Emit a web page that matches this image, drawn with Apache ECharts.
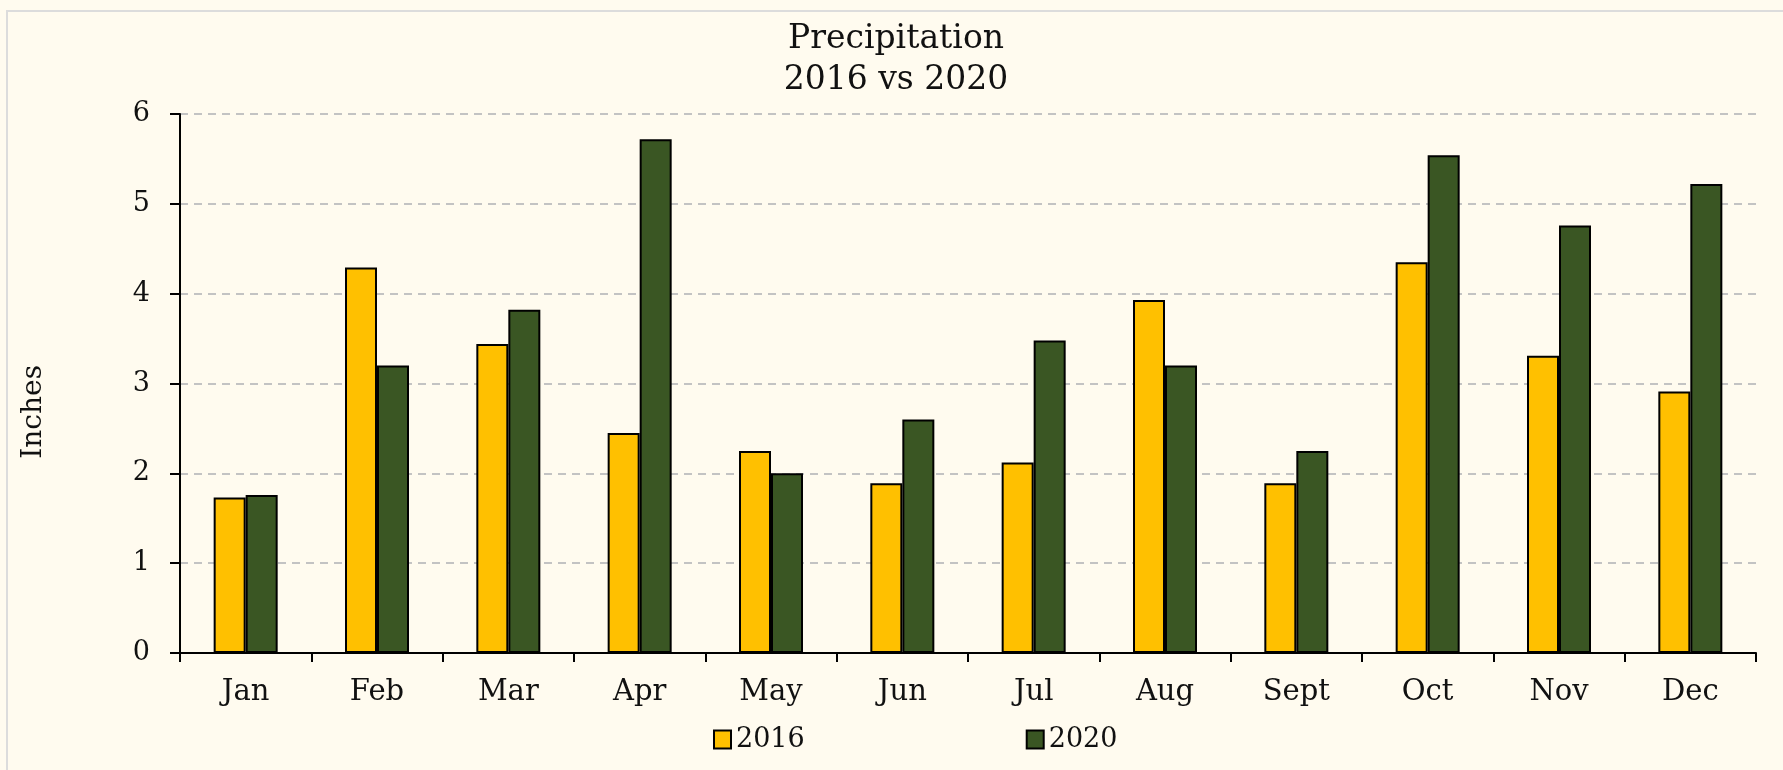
<!DOCTYPE html>
<html>
<head>
<meta charset="utf-8">
<title>Precipitation 2016 vs 2020</title>
<script src="https://cdn.jsdelivr.net/npm/echarts@6/dist/echarts.min.js"></script>
<style>
  html, body { margin: 0; padding: 0; background: #fffbef; }
  #main { width: 1783px; height: 770px; }
</style>
</head>
<body>
<div id="main"></div>
<script>
  // data
  var months = ['Jan', 'Feb', 'Mar', 'Apr', 'May', 'Jun', 'Jul', 'Aug', 'Sept', 'Oct', 'Nov', 'Dec'];
  var rain2016 = [1.73, 4.29, 3.44, 2.45, 2.25, 1.89, 2.12, 3.93, 1.89, 4.35, 3.31, 2.91];
  var rain2020 = [1.76, 3.20, 3.82, 5.72, 2.00, 2.60, 3.48, 3.20, 2.25, 5.54, 4.76, 5.22];
  var yTicks = [0, 1, 2, 3, 4, 5, 6];

  var font = '"DejaVu Serif", "Liberation Serif", serif';
  var myChart = echarts.init(document.getElementById('main'));

  var barStyle = function (c) {
    return { color: c, borderColor: '#000', borderWidth: 2 };
  };

  var option = {
    backgroundColor: '#fffbef',
    animation: false,
    title: {
      text: 'Precipitation\n2016 vs 2020',
      left: 891,
      textAlign: 'center',
      top: 14,
      textStyle: {
        fontFamily: font,
        fontWeight: 'normal',
        fontSize: 33,
        lineHeight: 41,
        color: '#111'
      }
    },
    legend: {
      left: 708,
      top: 721,
      itemWidth: 17,
      itemHeight: 18,
      itemGap: 221,
      icon: 'rect',
      textStyle: { fontFamily: font, fontSize: 27, color: '#111' },
      data: ['2016', '2020']
    },
    grid: { left: 180, right: 27, top: 114, bottom: 117 },
    graphic: [
      {
        type: 'rect',
        z: -1,
        shape: { x: 7, y: 11, width: 1800, height: 800 },
        style: { fill: 'none', stroke: '#dcdcdc', lineWidth: 2 }
      },
      {
        type: 'text',
        left: 20,
        top: 365,
        rotation: Math.PI / 2,
        style: { text: 'Inches', fontFamily: font, fontSize: 28, fill: '#111' }
      }
    ],
    xAxis: {
      type: 'category',
      data: months,
      axisLine: { lineStyle: { color: '#000', width: 2 } },
      axisTick: { show: true, interval: 0, length: 9, lineStyle: { color: '#000', width: 2 } },
      axisLabel: { margin: 25, fontFamily: font, fontSize: 29, color: '#111', interval: 0 }
    },
    yAxis: {
      type: 'value',
      min: yTicks[0],
      max: yTicks[yTicks.length - 1],
      interval: 1,
      axisLine: { show: true, lineStyle: { color: '#000', width: 2 } },
      axisTick: { show: true, length: 10, lineStyle: { color: '#000', width: 2 } },
      axisLabel: { margin: 30, fontFamily: font, fontSize: 27, color: '#111' },
      splitLine: { lineStyle: { color: '#c3c3c3', width: 2, type: [8, 6] } }
    },
    series: [
      {
        name: '2016',
        type: 'bar',
        data: rain2016,
        barWidth: 32,
        barGap: '0%',
        itemStyle: barStyle('#ffc000')
      },
      {
        name: '2020',
        type: 'bar',
        data: rain2020,
        barWidth: 32,
        barGap: '0%',
        itemStyle: barStyle('#3a5623')
      }
    ]
  };

  myChart.setOption(option);
  window.addEventListener('resize', function () { myChart.resize(); });
</script>
</body>
</html>
